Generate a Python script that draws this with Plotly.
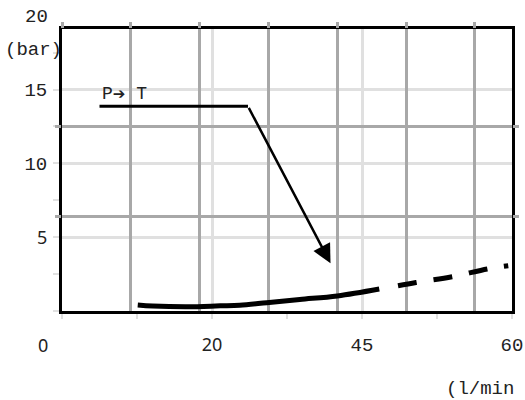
import plotly.graph_objects as go

# ---- data ----
flow_solid = [10.1, 12.1, 16.7, 21.1, 23.7, 27.3, 31.7, 36.7, 42.3]
dp_solid = [0.41, 0.34, 0.29, 0.35, 0.39, 0.56, 0.78, 1.02, 1.49]
flow_dashed = [44.8, 47.2, 52.0, 56.7, 59.5]
dp_dashed = [1.71, 1.93, 2.32, 2.85, 3.07]

pt_line_x = [5.0, 24.8]
pt_line_y = [13.86, 13.86]
pt_arrow_tip = (35.8, 3.23)

x_tickvals = [0, 20, 40, 60]
x_ticktext = ["", "20", "45", "60"]
y_tickvals = [0, 5, 10, 15]
y_ticktext = ["", "5", "10", "15"]
dark_y_lines = [6.37, 12.47]

MONO = "Liberation Mono"
SANS = "Noto Sans"
LIGHT = "#e0e0e0"
DARK = "#a8a8a8"


def sans(t):
    return f'<span style="font-family:{SANS};font-size:18px">{t}</span>' if t else t


x_ticktext_f = [sans(t) if t in ("20",) else t for t in x_ticktext]
y_ticktext_f = [sans(t) if t in ("5",) else t for t in y_ticktext]

fig = go.Figure()

# helper trace so the overlay grid axes exist
fig.add_trace(go.Scatter(x=[0], y=[0], xaxis="x2", yaxis="y2", mode="markers",
                         marker=dict(opacity=0), hoverinfo="skip", showlegend=False))

fig.add_trace(go.Scatter(x=flow_solid, y=dp_solid, mode="lines",
                         line=dict(color="black", width=5, shape="spline"),
                         showlegend=False, hoverinfo="skip"))
fig.add_trace(go.Scatter(x=flow_dashed, y=dp_dashed, mode="lines",
                         line=dict(color="black", width=5, dash="19px,17px", shape="spline"),
                         showlegend=False, hoverinfo="skip"))
fig.add_trace(go.Scatter(x=pt_line_x, y=pt_line_y, mode="lines",
                         line=dict(color="black", width=3),
                         showlegend=False, hoverinfo="skip"))

L, R, T, B = 62, 13, 29, 89
W, H = 525, 400
pw, ph = W - L - R, H - T - B

fig.update_layout(
    width=W, height=H, autosize=False,
    margin=dict(l=L, r=R, t=T, b=B, pad=0, autoexpand=False),
    paper_bgcolor="white", plot_bgcolor="white",
    font=dict(family=MONO, size=19, color="#222"),
    xaxis=dict(
        range=[0, 60], tickvals=x_tickvals, ticktext=x_ticktext_f,
        showgrid=True, gridcolor=LIGHT, gridwidth=2.5, zeroline=False,
        showline=True, linecolor="black", linewidth=3, mirror=True,
        ticks="outside", ticklen=5, tickcolor=LIGHT, tickwidth=2,
        ticklabelstandoff=9, automargin=False,
        minor=dict(dtick=10, tick0=0, ticks="outside", ticklen=5,
                   tickcolor=LIGHT, tickwidth=2, showgrid=False),
    ),
    yaxis=dict(
        range=[0, 19.1], tickvals=y_tickvals, ticktext=y_ticktext_f,
        showgrid=True, gridcolor=LIGHT, gridwidth=2.5, zeroline=False,
        showline=True, linecolor="black", linewidth=3, mirror=True,
        ticks="outside", ticklen=6, tickcolor=LIGHT, tickwidth=2,
        ticklabelstandoff=2, automargin=False,
        minor=dict(dtick=2.5, tick0=0, ticks="outside", ticklen=6,
                   tickcolor=LIGHT, tickwidth=2, showgrid=False),
    ),
    xaxis2=dict(
        overlaying="x", anchor="y2", side="top", range=[0, 450 / 68.8],
        tick0=0, dtick=1, showgrid=True, gridcolor=DARK, gridwidth=2.5,
        zeroline=False, showticklabels=False, automargin=False,
        ticks="outside", ticklen=6, tickcolor=DARK, tickwidth=2.5,
    ),
    yaxis2=dict(
        overlaying="y", anchor="x2", side="right", range=[0, 19.1],
        tickvals=dark_y_lines, showgrid=True, gridcolor=DARK, gridwidth=2.5,
        zeroline=False, showticklabels=False, mirror="ticks", automargin=False,
        ticks="outside", ticklen=6, tickcolor=DARK, tickwidth=2.5,
    ),
)


def px_x(px):
    return (px - L) / pw


def px_y(py):
    return (H - B - py) / ph


annotations = [
    # y = 20 label above the frame
    dict(text="20", xref="paper", x=0, xanchor="right", xshift=-12,
         yref="paper", y=px_y(17), yanchor="middle", showarrow=False),
    # x = 0 label
    dict(text="0", xref="x", x=0, xanchor="center", xshift=-19,
         yref="paper", y=0, yanchor="middle", yshift=-33.5, showarrow=False,
         font=dict(family=SANS, size=18)),
    dict(text="(bar)", xref="paper", x=px_x(64), xanchor="right",
         yref="paper", y=px_y(50), yanchor="middle", showarrow=False),
    dict(text="(l/min", xref="paper", x=px_x(444), xanchor="left",
         yref="paper", y=px_y(389), yanchor="middle", showarrow=False),
    dict(text='P<span style="font-family:DejaVu Sans;font-size:15px">➔</span> T',
         xref="x", x=pt_line_x[0] + 0.1, xanchor="left",
         yref="y", y=pt_line_y[0] + 0.85, yanchor="middle", showarrow=False,
         font=dict(size=18)),
    dict(text="", x=pt_arrow_tip[0], y=pt_arrow_tip[1], xref="x", yref="y",
         ax=pt_line_x[1], ay=pt_line_y[1], axref="x", ayref="y",
         showarrow=True, arrowhead=2, arrowsize=1.5, arrowwidth=2.5,
         arrowcolor="black", standoff=0, startstandoff=0),
]
fig.update_layout(annotations=annotations)

fig.write_html(
    "out.html",
    config={"displayModeBar": False},
    post_script="document.body.style.margin='0';document.body.style.overflow='hidden';",
)
